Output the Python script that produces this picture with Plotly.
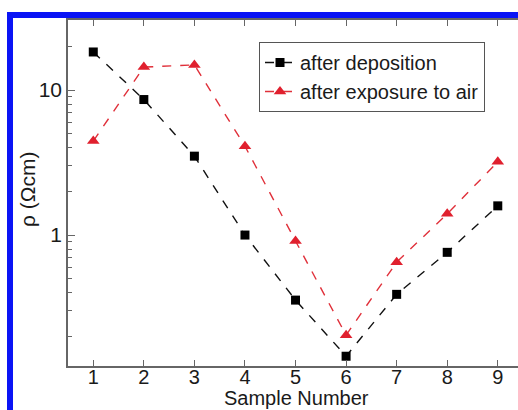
import plotly.graph_objects as go

# Resistivity of each sample, measured twice
sample_number = [1, 2, 3, 4, 5, 6, 7, 8, 9]
rho_after_deposition = [18.3, 8.6, 3.5, 1.0, 0.356, 0.146, 0.39, 0.76, 1.59]
rho_after_air = [4.45, 14.4, 14.9, 4.1, 0.91, 0.204, 0.65, 1.40, 3.2]

series_names = ["after deposition", "after exposure to air"]
x_title = "Sample Number"
y_title = "ρ (Ωcm)"
y_tick_values = [1, 10]
y_tick_labels = ["1", "10"]
y_minor_values = [0.2, 0.3, 0.4, 0.5, 0.6, 0.7, 0.8, 0.9,
                  2, 3, 4, 5, 6, 7, 8, 9, 20, 30]

W, H = 518, 410
L, R, T, B = 68, 0, 20, 44
pw, ph = W - L - R, H - T - B

FAMILY = "Liberation Sans, Arial, sans-serif"
INK = "#1a1a1a"

fig = go.Figure()
fig.add_trace(go.Scatter(
    x=sample_number, y=rho_after_deposition, name=series_names[0],
    mode="lines+markers",
    line=dict(color="#111111", width=1.4, dash="dash"),
    marker=dict(symbol="square", size=9, color="#000000"),
))
fig.add_trace(go.Scatter(
    x=sample_number, y=rho_after_air, name=series_names[1],
    mode="lines+markers",
    line=dict(color="#e0303a", width=1.4, dash="dash"),
    marker=dict(symbol="triangle-up", size=11, color="#e0202e"),
))

fig.update_xaxes(
    range=[0.5, 9.4], tickvals=sample_number,
    ticks="inside", ticklen=6, tickcolor="#666", tickwidth=1.2,
    ticklabelstandoff=-8,
    showline=True, linecolor="#666", linewidth=1.5, mirror="ticks",
    showgrid=False, zeroline=False,
    tickfont=dict(family=FAMILY, size=20, color=INK),
)
fig.update_yaxes(
    type="log", range=[-0.903, 1.483],
    tickvals=y_tick_values, ticktext=y_tick_labels,
    ticks="inside", ticklen=7, tickcolor="#666", tickwidth=1.2,
    minor=dict(tickmode="array", tickvals=y_minor_values, ticks="inside",
               ticklen=4, tickcolor="#666", tickwidth=1),
    showline=True, linecolor="#666", linewidth=1.5, mirror=False,
    showgrid=False, zeroline=False,
    tickfont=dict(family=FAMILY, size=21, color=INK),
)

# Axis titles placed in pixel terms relative to the plot area
fig.add_annotation(text=x_title, xref="paper", yref="paper",
                   x=(296 - L) / pw, y=(H - B - 398.5) / ph,
                   xanchor="center", yanchor="middle", showarrow=False,
                   font=dict(family=FAMILY, size=20, color=INK))
fig.add_annotation(text=y_title, xref="paper", yref="paper",
                   x=(27 - L) / pw, y=(H - B - 190) / ph, textangle=-90,
                   xanchor="center", yanchor="middle", showarrow=False,
                   font=dict(family=FAMILY, size=21, color=INK))

# Blue frame around the figure, open towards right and bottom
fx = (10 - L) / pw
fy = (H - B - 15) / ph
fig.add_shape(type="path", xref="paper", yref="paper",
              path=f"M {fx},{-0.5} L {fx},{fy} L {1.5},{fy}",
              line=dict(color="#0a14f5", width=6), layer="above")

fig.update_layout(
    width=W, height=H,
    margin=dict(l=L, r=R, t=T, b=B, autoexpand=False),
    paper_bgcolor="white", plot_bgcolor="white",
    font=dict(family=FAMILY, color=INK),
    showlegend=True,
    legend=dict(
        x=(259 - L) / pw, y=(H - B - 42) / ph, xanchor="left", yanchor="top",
        bordercolor="#555", borderwidth=1, bgcolor="white",
        font=dict(family=FAMILY, size=20, color=INK),
        itemwidth=30, tracegroupgap=0,
    ),
)

fig.write_html("out.html")
